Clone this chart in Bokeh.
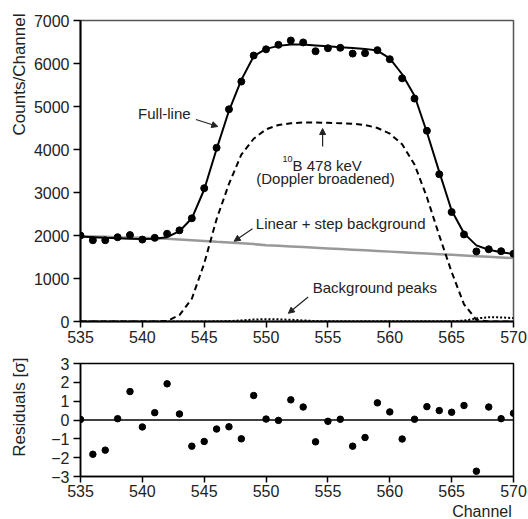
import math
from bokeh.plotting import figure
from bokeh.layouts import column, row
from bokeh.models import Range1d, FixedTicker, Label, Arrow, NormalHead, Span
from bokeh.embed import file_html
from bokeh.resources import INLINE

# ---------------- data ----------------
channels = list(range(535, 571))
counts = [2000, 1890, 1890, 1960, 2010, 1905, 1945, 2040, 2120, 2400,
          3100, 4040, 4935, 5580, 6185, 6330, 6435, 6535, 6490, 6285,
          6355, 6365, 6230, 6240, 6310, 6100, 5655, 5185, 4435, 3425,
          2545, 2025, 1630, 1680, 1635, 1575]
full_fit = [1975, 1960, 1945, 1935, 1925, 1920, 1922, 1960, 2100, 2400,
            3070, 4010, 4900, 5620, 6170, 6340, 6410, 6440, 6440, 6420,
            6400, 6380, 6360, 6340, 6300, 6120, 5750, 5250, 4400, 3480,
            2580, 2050, 1770, 1670, 1610, 1570]
background = [1985, 1978, 1970, 1962, 1955, 1945, 1935, 1922, 1905, 1888,
              1870, 1852, 1835, 1818, 1800, 1775, 1760, 1745, 1730, 1715,
              1700, 1685, 1670, 1655, 1640, 1625, 1610, 1595, 1580, 1565,
              1550, 1535, 1520, 1505, 1490, 1475]
b10_peak = [0, 0, 0, 0, 0, 0, 0, 10, 150, 530,
            1350, 2380, 3200, 3880, 4250, 4470, 4570, 4610, 4630, 4630,
            4620, 4610, 4600, 4570, 4500, 4370, 4120, 3650, 2890, 2000,
            1150, 400, 40, 0, 0, 0]
bg_peaks = [0, 0, 0, 0, 0, 0, 0, 0, 0, 0,
            0, 5, 10, 25, 45, 55, 50, 40, 25, 10,
            5, 5, 5, 5, 5, 5, 5, 5, 5, 5,
            5, 20, 70, 100, 95, 80]
residuals = [0.03, -1.82, -1.60, 0.07, 1.51, -0.37, 0.39, 1.92, 0.32, -1.39,
             -1.14, -0.48, -0.36, -1.00, 1.30, 0.05, -0.02, 1.07, 0.69, -1.16,
             -0.07, 0.04, -1.39, -0.93, 0.91, 0.43, -1.01, 0.04, 0.71, 0.50,
             0.41, 0.77, -2.72, 0.69, 0.07, 0.36]
x_ticks = [535, 540, 545, 550, 555, 560, 565, 570]
y_ticks = [0, 1000, 2000, 3000, 4000, 5000, 6000, 7000]
res_ticks = [-3, -2, -1, 0, 1, 2, 3]

FONT = "Liberation Sans"
TXT = "#222222"


def style_axes(p, axis_w):
    for ax in (p.xaxis[0], p.yaxis[0]):
        ax.axis_line_color = "black"
        ax.axis_line_width = axis_w
        ax.major_tick_line_color = "black"
        ax.major_tick_line_width = 1.5
        ax.major_tick_in = 0
        ax.minor_tick_line_color = None
        ax.major_label_text_font = FONT
        ax.major_label_text_font_size = "16px"
        ax.major_label_text_color = TXT
        ax.major_label_standoff = 4
    p.xaxis[0].major_tick_out = 6
    p.xaxis[0].major_label_standoff = 3
    p.yaxis[0].major_tick_out = 7
    p.xgrid.visible = False
    p.ygrid.visible = False


def text_panel(w, h, x0, x1, y0, y1):
    f = figure(width=w, height=h, output_backend="svg", toolbar_location=None,
               x_range=Range1d(x0, x1), y_range=Range1d(y1, y0),
               x_axis_type=None, y_axis_type=None, min_border=0)
    f.outline_line_color = None
    f.xgrid.visible = False
    f.ygrid.visible = False
    return f


# ---------------- left strip with the axis titles ----------------
side = text_panel(30, 519, 0, 30, 0, 519)
side.add_layout(Label(x=18.5, y=13, text="Counts/Channel", angle=math.pi / 2,
                      text_align="right", text_baseline="middle",
                      text_font=FONT, text_font_size="17px", text_color=TXT))
side.add_layout(Label(x=18.5, y=357, text="Residuals [σ]", angle=math.pi / 2,
                      text_align="right", text_baseline="middle",
                      text_font=FONT, text_font_size="17px", text_color=TXT))

# ---------------- top panel ----------------
p1 = figure(width=498, height=350, output_backend="svg", toolbar_location=None,
            x_range=Range1d(535, 570), y_range=Range1d(0, 7000),
            min_border_left=49, min_border_right=15, min_border_top=20,
            min_border_bottom=29)
style_axes(p1, 2)
p1.outline_line_color = "#555555"
p1.outline_line_width = 1.5
p1.xaxis[0].ticker = FixedTicker(ticks=x_ticks, minor_ticks=[])
p1.yaxis[0].ticker = FixedTicker(ticks=y_ticks, minor_ticks=[])

p1.line(channels, background, line_color="#999999", line_width=2.5)
p1.line(channels, b10_peak, line_color="black", line_width=2, line_dash="6 4")
p1.line(channels, bg_peaks, line_color="black", line_width=2, line_dash="2 2")
p1.line(channels, full_fit, line_color="black", line_width=2)
p1.scatter(channels, counts, size=7, color="black")

lab = dict(text_font=FONT, text_font_size="15px", text_color=TXT,
           text_baseline="middle")
p1.add_layout(Label(x=543.9, y=4837, text="Full-line", text_align="right", **lab))
p1.add_layout(Label(x=552.14, y=3628, text="B 478 keV", text_align="left",
                    text_font=FONT, text_font_size="15px", text_color=TXT,
                    text_baseline="alphabetic"))
p1.add_layout(Label(x=552.14, y=3790, text="10", text_align="right",
                    text_font=FONT, text_font_size="9px", text_color=TXT,
                    text_baseline="middle"))
p1.add_layout(Label(x=554.8, y=3314, text="(Doppler broadened)", text_align="center", **lab))
p1.add_layout(Label(x=549.17, y=2279, text="Linear + step background", text_align="left", **lab))
p1.add_layout(Label(x=553.77, y=790, text="Background peaks", text_align="left", **lab))


def arrow(x0, y0, x1, y1):
    p1.add_layout(Arrow(end=NormalHead(size=6, fill_color="#222222", line_color="#222222"),
                        x_start=x0, y_start=y0, x_end=x1, y_end=y1,
                        line_color="#222222", line_width=1.2))


arrow(544.33, 4698, 546.1, 4535)
arrow(554.57, 4070, 554.57, 4488)
arrow(548.9, 2155, 547.42, 1867)
arrow(553.4, 570, 551.8, 190)

# ---------------- residual panel ----------------
p2 = figure(width=498, height=152, output_backend="svg", toolbar_location=None,
            x_range=Range1d(535, 570), y_range=Range1d(-3, 3),
            min_border_left=49, min_border_right=15, min_border_top=13,
            min_border_bottom=26)
style_axes(p2, 1.5)
p2.xaxis[0].major_label_standoff = 2
p2.outline_line_color = "black"
p2.outline_line_width = 1.5
p2.xaxis[0].ticker = FixedTicker(ticks=x_ticks, minor_ticks=[])
p2.yaxis[0].ticker = FixedTicker(ticks=res_ticks, minor_ticks=[])
p2.add_layout(Span(location=0, dimension="width", line_color="black", line_width=1.5))
p2.scatter(channels, residuals, size=6.5, color="black")

# ---------------- bottom strip with the x title ----------------
bottom = text_panel(498, 17, 30, 528, 502, 519)
bottom.add_layout(Label(x=526, y=510.5, text="Channel", text_align="right",
                        text_baseline="middle", text_font=FONT,
                        text_font_size="16px", text_color=TXT))

layout = row(side, column(p1, p2, bottom, spacing=0), spacing=0)
open("out.html", "w").write(file_html(layout, INLINE))
